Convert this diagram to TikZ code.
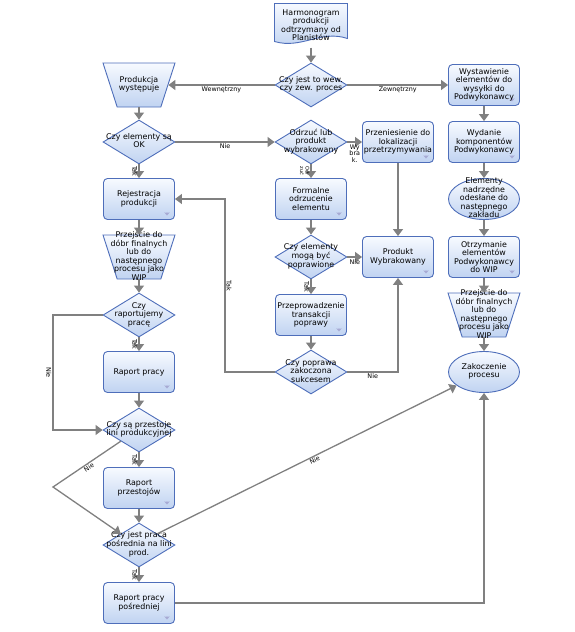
\documentclass[tikz,border=0pt]{standalone}
\usepackage{fontspec}
\setmainfont{DejaVu Sans}
\usetikzlibrary{shapes.geometric,arrows.meta}
\definecolor{lineblue}{RGB}{78,110,186}
\definecolor{filltop}{RGB}{247,250,255}
\definecolor{fillbot}{RGB}{192,211,241}
\definecolor{flowgray}{RGB}{128,128,128}
\definecolor{markgray}{RGB}{160,160,205}
% text that may run over the border of its shape
\newcommand{\ctext}[1]{\raisebox{-1.9pt}[0pt][0pt]{\makebox[0pt]{\begin{tabular}{@{}c@{}}#1\end{tabular}}}}

\begin{document}
\begin{tikzpicture}[
    x=1pt, y=-1pt,
    font=\fontsize{7.9}{8.4}\selectfont,
    shapebase/.style={draw=lineblue, line width=0.9pt, top color=filltop, bottom color=fillbot},
    procbox/.style={shapebase, rectangle, rounded corners=4pt, minimum width=71pt, minimum height=41pt, align=center, inner sep=1pt,
        path picture={\fill[markgray] ([shift={(-10pt,7pt)}]path picture bounding box.south east) -- ++(5pt,0pt) -- ++(-2.5pt,-3pt) -- cycle;}},
    decbox/.style={shapebase, diamond, minimum width=72pt, minimum height=44pt, inner sep=0pt},
    manbox/.style={shapebase, trapezium, shape border rotate=180, trapezium angle=72, trapezium stretches=true, minimum width=72pt, minimum height=44pt, inner sep=2pt},
    termbox/.style={shapebase, ellipse, minimum width=71pt, minimum height=41pt, inner sep=0pt},
    docbox/.style={rectangle, minimum width=75pt, minimum height=45pt, inner sep=0pt, align=center,
        path picture={\shade[top color=filltop, bottom color=fillbot, draw=lineblue, line width=0.9pt]
            ([shift={(1pt,-1pt)}]path picture bounding box.north west) -- ([shift={(-1pt,-1pt)}]path picture bounding box.north east)
            -- ([shift={(-1pt,9pt)}]path picture bounding box.south east)
            .. controls ([shift={(-28pt,18pt)}]path picture bounding box.south east) and ([shift={(28pt,-2pt)}]path picture bounding box.south west)
            .. ([shift={(1pt,6pt)}]path picture bounding box.south west) -- cycle;}},
    flowline/.style={-{Triangle[width=10pt,length=7pt]}, draw=flowgray, line width=1.3pt},
    edgelab/.style={font=\fontsize{6.4}{6.6}\selectfont, inner sep=1pt, text=black},
    vlab/.style={edgelab, rotate=-90}
]
\useasboundingbox (0,0) rectangle (575,632);

% Start
\node[docbox] (plan) at (311,25) {Harmonogram\\produkcji\\odtrzymany od\\Planistów};
\node[decbox] (rodzaj) at (311,85) {\ctext{Czy jest to wew.\\czy zew. proces}};

% Internal production
\node[manbox] (wystep) at (139,85) {\ctext{Produkcja\\występuje}};
\node[decbox] (czyok) at (139,142) {\ctext{Czy elementy są\\OK}};
\node[procbox] (rejestr) at (139,199) {Rejestracja\\produkcji};
\node[manbox] (przejL) at (139,257) {\ctext{Przejście do\\dóbr finalnych\\lub do\\następnego\\procesu jako\\WIP}};
\node[decbox] (czyrap) at (139,315) {\ctext{Czy\\raportujemy\\pracę}};
\node[procbox] (rpracy) at (139,372) {Raport pracy};
\node[decbox] (czyprz) at (139,430) {\ctext{Czy są przestoje\\lini produkcyjnej}};
\node[procbox] (rprzest) at (139,488) {Raport\\przestojów};
\node[decbox] (czypos) at (139,545) {\ctext{Czy jest praca\\pośrednia na lini\\prod.}};
\node[procbox] (rposr) at (139,603) {Raport pracy\\pośredniej};

% Rejected elements
\node[decbox] (odrzuc) at (311,142) {\ctext{Odrzuć lub\\produkt\\wybrakowany}};
\node[procbox] (formal) at (311,199) {Formalne\\odrzucenie\\elementu};
\node[decbox] (czypop) at (311,257) {\ctext{Czy elementy\\mogą być\\poprawione}};
\node[procbox] (transak) at (311,315) {Przeprowadzenie\\transakcji\\poprawy};
\node[decbox] (czysuk) at (311,372) {\ctext{Czy poprawa\\zakoczona\\sukcesem}};
\node[procbox] (przenies) at (398,142) {Przeniesienie do\\lokalizacji\\przetrzymywania};
\node[procbox] (wybrak) at (398,257) {Produkt\\Wybrakowany};

% Subcontractor
\node[procbox] (wysylka) at (484,85) {Wystawienie\\elementów do\\wysyłki do\\Podwykonawcy};
\node[procbox] (wydanie) at (484,142) {Wydanie\\komponentów\\Podwykonawcy};
\node[termbox] (odeslane) at (484,199) {\ctext{Elementy\\nadrzędne\\odesłane do\\następnego\\zakładu}};
\node[procbox] (otrzym) at (484,257) {Otrzymanie\\elementów\\Podwykonawcy\\do WIP};
\node[manbox] (przejR) at (484,315) {\ctext{Przejście do\\dóbr finalnych\\lub do\\następnego\\procesu jako\\WIP}};
\node[termbox] (koniec) at (484,372) {\ctext{Zakoczenie\\procesu}};

% Bend points
\coordinate (zwrotTak) at (225,372);
\coordinate (zwrotNie) at (53,315);
\coordinate (zwrotPrz) at (53,487);

% Connectors
\draw[flowline] (plan) -- (rodzaj);
\draw[flowline] (rodzaj) -- node[edgelab, below] {Wewnętrzny} (wystep);
\draw[flowline] (rodzaj) -- node[edgelab, below] {Zewnętrzny} (wysylka);
\draw[flowline] (wysylka) -- (wydanie);
\draw[flowline] (wydanie) -- (odeslane);
\draw[flowline] (odeslane) -- (otrzym);
\draw[flowline] (otrzym) -- (przejR);
\draw[flowline] (przejR) -- (koniec);

\draw[flowline] (wystep) -- (czyok);
\draw[flowline] (czyok) -- node[edgelab, below] {Nie} (odrzuc);
\draw[flowline] (czyok) -- node[vlab, anchor=north] {Tak} (rejestr);
\draw[flowline] (odrzuc) -- node[edgelab, below, align=center, yshift=-1pt] {Wy\\bra\\k.} (przenies);
\draw[flowline] (odrzuc) -- node[vlab, anchor=north, align=center, font=\fontsize{5}{5.5}\selectfont] {Odr\\zuć} (formal);
\draw[flowline] (przenies) -- (wybrak);
\draw[flowline] (formal) -- (czypop);
\draw[flowline] (czypop) -- node[edgelab, below, yshift=-1pt] {Nie} (wybrak);
\draw[flowline] (czypop) -- node[vlab, anchor=north] {Tak} (transak);
\draw[flowline] (transak) -- (czysuk);
\draw[flowline] (czysuk) -| node[edgelab, below, pos=0.25] {Nie} (wybrak);
\draw[flowline] (czysuk) -- (zwrotTak) |- node[vlab, anchor=south, pos=0.25] {Tak} (rejestr);

\draw[flowline] (rejestr) -- (przejL);
\draw[flowline] (przejL) -- (czyrap);
\draw[flowline] (czyrap) -- node[vlab, anchor=north] {Tak} (rpracy);
\draw[flowline] (czyrap) -- (zwrotNie) |- node[vlab, anchor=north, pos=0.25] {Nie} (czyprz);
\draw[flowline] (rpracy) -- (czyprz);
\draw[flowline] (czyprz) -- node[vlab, anchor=north] {Tak} (rprzest);
\draw[flowline] (czyprz.south west) -- node[edgelab, sloped, below, pos=0.5, inner sep=0.5pt] {Nie} (zwrotPrz) -- (czypos.north west);
\draw[flowline] (rprzest) -- (czypos);
\draw[flowline] (czypos) -- node[vlab, anchor=north] {Tak} (rposr);
\draw[flowline] (czypos.north east) -- node[edgelab, sloped, below, pos=0.52] {Nie} (koniec);
\draw[flowline] (rposr) -| (koniec);

\end{tikzpicture}
\end{document}
